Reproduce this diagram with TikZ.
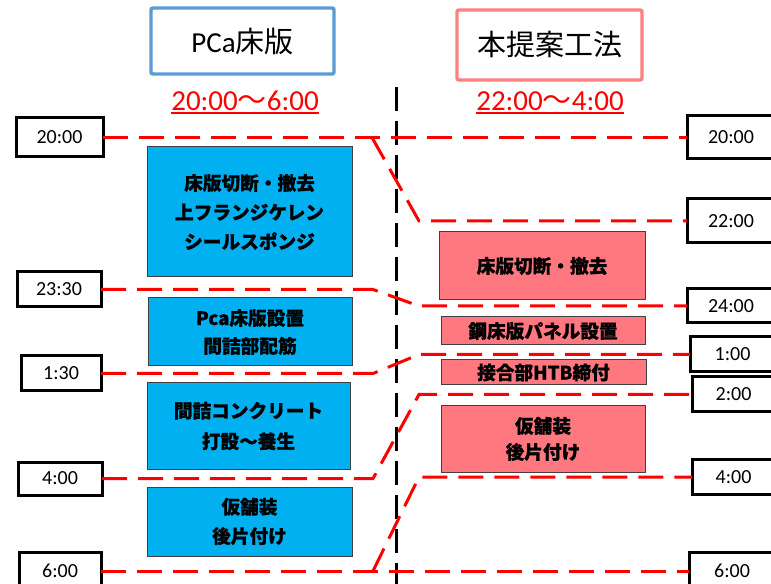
\documentclass[tikz,border=0pt]{standalone}
\usepackage{fontspec}
\setmainfont{Carlito}
\newfontfamily\cjk{Noto Sans CJK JP}[BoldFeatures={FakeBold=0.7}]
\definecolor{pcablue}{RGB}{91,155,213}
\definecolor{salmonline}{RGB}{255,128,128}
\definecolor{boxblue}{RGB}{0,176,240}
\definecolor{boxpink}{RGB}{255,120,128}
\begin{document}
\begin{tikzpicture}[x=0.75pt,y=-0.75pt,
  timebox/.style={draw=black,line width=2.25pt,fill=white,inner sep=0pt,outer sep=0pt,font=\fontsize{15}{18}\selectfont},
  taskbox/.style={draw=black!75,line width=0.75pt,inner sep=0pt,outer sep=0pt,align=center,font=\fontsize{14}{22}\selectfont\cjk\bfseries},
  bluetask/.style={taskbox,fill=boxblue},
  pinktask/.style={taskbox,fill=boxpink},
  titlebox/.style={fill=white,line width=2.6pt,rounded corners=1.5pt,inner sep=0pt,font=\fontsize{21.75}{26}\selectfont},
  rangelabel/.style={text=red,inner sep=0pt,font=\fontsize{21.75}{26}\selectfont},
  underl/.style={draw=red,line width=1.2pt},
  reddash/.style={draw=red,line width=2.25pt,dash pattern=on 18.75pt off 8.25pt},
  divider/.style={draw=black,line width=2.25pt,dash pattern=on 18pt off 7.5pt}]
\useasboundingbox (0,0) rectangle (771,584);

% titles
\node[titlebox,draw=pcablue,minimum width=183*0.75pt,minimum height=66*0.75pt] (titleL) at (242.5,41) {PCa{\cjk 床版}};
\node[titlebox,draw=salmonline,minimum width=185*0.75pt,minimum height=70*0.75pt] (titleR) at (549.5,45) {\cjk 本提案工法};

\node[rangelabel] (rangeL) at (245,101) {20:00{\cjk ～}6:00};
\node[rangelabel] (rangeR) at (550,101) {22:00{\cjk ～}4:00};
\draw[underl] (rangeL.west |- 0,113) -- (rangeL.east |- 0,113);
\draw[underl] (rangeR.west |- 0,113) -- (rangeR.east |- 0,113);

% divider
\coordinate (divtop) at (396,87);
\coordinate (divbot) at (396,592);
\draw[divider] (divtop) -- (divbot);

% left time boxes
\node[timebox,minimum width=87*0.75pt,minimum height=39*0.75pt] (tL20) at (59.5,137.5) {20:00};
\node[timebox,minimum width=84*0.75pt,minimum height=35*0.75pt] (tL2330) at (59,289.5) {23:30};
\node[timebox,minimum width=80*0.75pt,minimum height=35*0.75pt] (tL130) at (61,373.5) {1:30};
\node[timebox,minimum width=84*0.75pt,minimum height=33*0.75pt] (tL4) at (60,478.5) {4:00};
\node[timebox,minimum width=82*0.75pt,minimum height=37*0.75pt] (tL6) at (60,571) {6:00};

% right time boxes
\node[timebox,minimum width=88*0.75pt,minimum height=43*0.75pt] (tR20) at (731,137.5) {20:00};
\node[timebox,minimum width=88*0.75pt,minimum height=44*0.75pt] (tR22) at (731,221) {22:00};
\node[timebox,minimum width=88*0.75pt,minimum height=34*0.75pt] (tR24) at (731,306) {24:00};
\node[timebox,minimum width=85*0.75pt,minimum height=35*0.75pt] (tR1) at (732.5,354.5) {1:00};
\node[timebox,minimum width=83*0.75pt,minimum height=35*0.75pt] (tR2) at (733.5,394.5) {2:00};
\node[timebox,minimum width=83*0.75pt,minimum height=35*0.75pt] (tR4) at (733.5,477) {4:00};
\node[timebox,minimum width=86*0.75pt,minimum height=38*0.75pt] (tR6) at (732,571) {6:00};

% blue tasks
\node[bluetask,minimum width=205*0.75pt,minimum height=130*0.75pt] (b1) at (249.5,212) {床版切断・撤去\\上フランジケレン\\シールスポンジ};
\node[bluetask,minimum width=204*0.75pt,minimum height=68*0.75pt,font=\fontsize{14}{21}\selectfont\cjk\bfseries] (b2) at (250,332) {Pca床版設置\\間詰部配筋};
\node[bluetask,minimum width=203*0.75pt,minimum height=86*0.75pt,font=\fontsize{14}{23}\selectfont\cjk\bfseries] (b3) at (248.5,426) {間詰コンクリート\\打設～養生};
\node[bluetask,minimum width=205*0.75pt,minimum height=69*0.75pt] (b4) at (249.5,521.5) {仮舗装\\後片付け};

% pink tasks
\node[pinktask,minimum width=206*0.75pt,minimum height=68*0.75pt] (p1) at (542,266) {床版切断・撤去};
\node[pinktask,minimum width=204*0.75pt,minimum height=28*0.75pt] (p2) at (543,331) {鋼床版パネル設置};
\node[pinktask,minimum width=205*0.75pt,minimum height=25*0.75pt] (p3) at (543.5,372.5) {接合部HTB締付};
\node[pinktask,minimum width=204*0.75pt,minimum height=66*0.75pt,font=\fontsize{14}{19.5}\selectfont\cjk\bfseries] (p4) at (543,439) {仮舗装\\後片付け};

% bend points
\coordinate (j20) at (372,137.5);
\coordinate (k22) at (419,221);
\coordinate (j2330) at (373,289.5);
\coordinate (k24) at (419,306);
\coordinate (j130) at (373,373.5);
\coordinate (k1) at (419,354.5);
\coordinate (j4) at (373,478.5);
\coordinate (k2) at (419,394.5);
\coordinate (j6) at (373,571);
\coordinate (k4) at (419,477);

% connectors
\draw[reddash] (tL20.east) -- (j20) -- (tR20.west);
\draw[reddash] (j20) -- (k22) -- (tR22.west);
\draw[reddash] (tL2330.east) -- (j2330) -- (k24) -- (tR24.west);
\draw[reddash] (tL130.east) -- (j130) -- (k1) -- (tR1.west);
\draw[reddash] (tL4.east) -- (j4) -- (k2) -- (tR2.west);
\draw[reddash] (tL6.east) -- (j6) -- (tR6.west);
\draw[reddash] (j6) -- (k4) -- (tR4.west);
\end{tikzpicture}
\end{document}
